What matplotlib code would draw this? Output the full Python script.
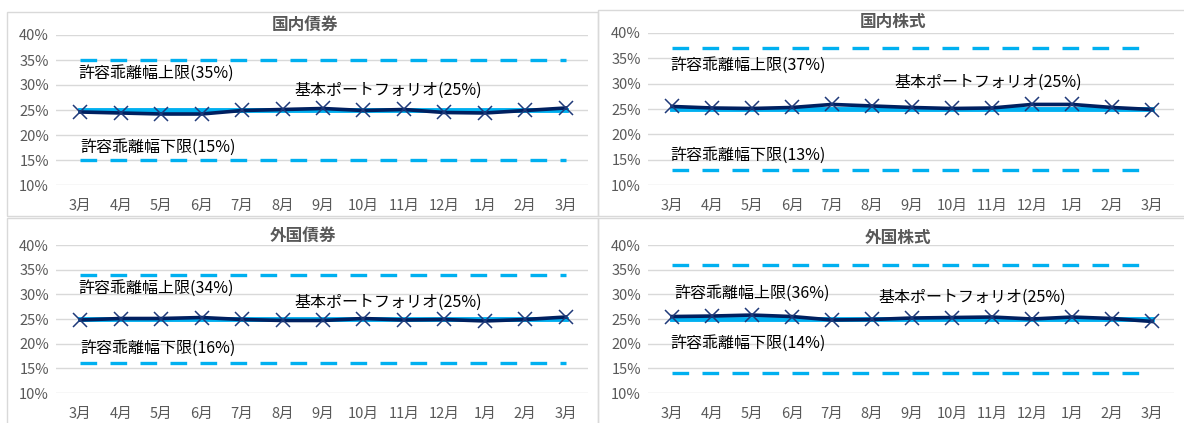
import numpy as np
import matplotlib
matplotlib.use("Agg")
import matplotlib.pyplot as plt
from matplotlib.patches import Rectangle

plt.rcParams['font.family'] = ['Noto Sans CJK JP', 'DejaVu Sans']

months = ["3月", "4月", "5月", "6月", "7月", "8月", "9月", "10月", "11月", "12月", "1月", "2月", "3月"]
titles = ["国内債券", "国内株式", "外国債券", "外国株式"]
base = [25, 25, 25, 25]
upper = [35, 37, 34, 36]
lower = [15, 13, 16, 14]

dom_bond = [24.6, 24.4, 24.2, 24.2, 24.9, 25.1, 25.3, 24.9, 25.1, 24.5, 24.4, 24.9, 25.4]
dom_equity = [25.5, 25.2, 25.1, 25.3, 25.9, 25.6, 25.3, 25.1, 25.2, 25.9, 25.9, 25.3, 24.9]
for_bond = [24.8, 25.1, 25.1, 25.3, 24.9, 24.7, 24.7, 25.1, 24.8, 24.9, 24.6, 24.9, 25.4]
for_equity = [25.5, 25.6, 25.8, 25.5, 24.8, 24.9, 25.2, 25.3, 25.4, 25.0, 25.4, 25.1, 24.5]
actual = [dom_bond, dom_equity, for_bond, for_equity]

# label positions (x index, y %) for upper / base / lower labels
upper_lbl = [(-0.05, 32.4), (-0.05, 33.7), (-0.05, 31.3), (0.05, 30.3)]
base_lbl = [(7.6, 29.0), (7.9, 30.3), (7.6, 28.4), (7.5, 29.3)]
lower_lbl = [(0.0, 17.6), (-0.05, 15.9), (0.0, 19.0), (-0.05, 20.1)]

W, H = 1184, 423
fig = plt.figure(figsize=(W / 100, H / 100), dpi=100)

# panel frames (pixels: x0, y0, x1, y1)
frames = [(7, 12, 598, 216), (598, 10, 1190, 216), (7, 218, 598, 430), (598, 218, 1190, 430)]
# axes rect in pixels: left, top(40%), right, bottom(10%)
rects = [(56, 35, 588, 185), (648, 33, 1174, 185), (56, 245, 588, 393), (648, 245, 1174, 393)]
title_pos = [(305, 25), (893, 22), (303, 236), (898, 238)]

light = "#00B0F0"
navy = "#002060"
gray = "#595959"

for (x0, y0, x1, y1) in frames:
    fig.patches.append(Rectangle((x0 / W, 1 - y1 / H), (x1 - x0) / W, (y1 - y0) / H,
                                 transform=fig.transFigure, fill=False,
                                 edgecolor="#D9D9D9", linewidth=1))

x = np.arange(len(months))
for i in range(4):
    l, t, r, b = rects[i]
    ax = fig.add_axes([l / W, 1 - b / H, (r - l) / W, (b - t) / H])
    ax.set_facecolor("none")
    ax.set_xlim(-0.6, 12.55)
    ax.set_ylim(10, 40)
    ax.set_yticks(range(10, 41, 5))
    ax.set_yticklabels([f"{v}%" for v in range(10, 41, 5)])
    ax.set_xticks(x)
    ax.set_xticklabels(months)
    ax.tick_params(axis="both", length=0, labelcolor=gray, labelsize=10.5)
    ax.tick_params(axis="x", pad=10)
    ax.tick_params(axis="y", pad=5)
    for s in ax.spines.values():
        s.set_visible(False)
    ax.grid(axis="y", color="#D9D9D9", linewidth=1)
    ax.set_axisbelow(True)

    ax.plot(x, [upper[i]] * len(x), color=light, linewidth=2.4, dashes=(5, 4))
    ax.plot(x, [lower[i]] * len(x), color=light, linewidth=2.4, dashes=(5, 4))
    ax.plot(x, [base[i]] * len(x), color=light, linewidth=3.5)
    ax.plot(x, actual[i], color=navy, linewidth=2.6, marker="x", markersize=10,
            markeredgewidth=1.1, markeredgecolor="#1F3A7A")

    ax.text(upper_lbl[i][0], upper_lbl[i][1], f"許容乖離幅上限({upper[i]}%)",
            fontsize=11.5, va="center", ha="left", color="black")
    ax.text(base_lbl[i][0], base_lbl[i][1], f"基本ポートフォリオ({base[i]}%)",
            fontsize=11.5, va="center", ha="center", color="black")
    ax.text(lower_lbl[i][0], lower_lbl[i][1], f"許容乖離幅下限({lower[i]}%)",
            fontsize=11.5, va="center", ha="left", color="black")

    tx, ty = title_pos[i]
    fig.text(tx / W, 1 - ty / H, titles[i], ha="center", va="center",
             fontsize=12, fontweight="bold", color=gray)

fig.savefig("out.png", dpi=100)
